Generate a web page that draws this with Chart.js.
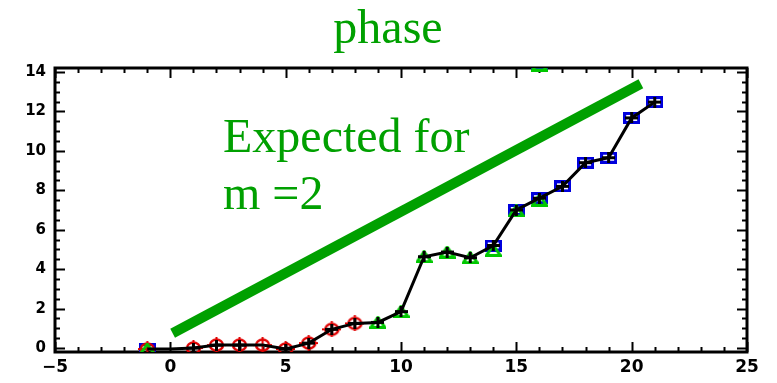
<!DOCTYPE html>
<html>
<head>
<meta charset="utf-8">
<script src="https://cdn.jsdelivr.net/npm/chart.js@4"></script>
<style>
  html, body { margin: 0; padding: 0; background: #fff; }
  #c { display: block; }
</style>
</head>
<body>
<canvas id="c" width="777" height="383"></canvas>
<script>
// --- data ---
const xAll     = [-1, 0, 1, 2, 3, 4, 5, 6, 7, 8, 9, 10, 11, 12, 13, 14, 15, 16, 17, 18, 19, 20, 21];
const phaseAll = [-0.05, -0.05, 0.0, 0.15, 0.15, 0.15, -0.05, 0.25, 0.95, 1.25, 1.3, 1.85, 4.63, 4.87, 4.58, 5.2, 7.0, 7.6, 8.2, 9.4, 9.65, 11.67, 12.47];
const plusShown = [0, 0, 1, 1, 1, 0, 1, 1, 1, 1, 1, 1, 1, 1, 1, 1, 1, 1, 1, 1, 1, 1, 1];

const xRed     = [-1, 1, 2, 3, 4, 5, 6, 7, 8];
const phaseRed = [-0.05, 0.0, 0.15, 0.15, 0.15, -0.05, 0.25, 0.95, 1.25];

const xGreen     = [-1, 9, 10, 11, 12, 13, 14, 15, 16, 16];
const phaseGreen = [-0.05, 1.3, 1.85, 4.63, 4.87, 4.58, 4.95, 6.95, 7.5, 14.35];

const xBlue     = [-1, 14, 15, 16, 16, 17, 18, 19, 20, 21];
const phaseBlue = [-0.05, 5.2, 7.0, 7.6, 14.35, 8.2, 9.4, 9.65, 11.67, 12.47];

// expected slope line (m = 2)
const xExpected     = [0.1, 20.4];
const phaseExpected = [0.75, 13.4];

const xTicks = [-5, 0, 5, 10, 15, 20, 25];
const xTickLabels = ['\u22125', '0', '5', '10', '15', '20', '25'];
const yTicks = [0, 2, 4, 6, 8, 10, 12, 14];

const GREEN_TEXT = '#00a000';

// --- marker images ---
function makeMarker(w, h, draw) {
    const c = document.createElement('canvas');
    c.width = w; c.height = h;
    draw(c.getContext('2d'));
    return c;
}
const plusMark = makeMarker(13, 11, g => {
    g.fillStyle = '#000';
    g.fillRect(0, 4, 13, 3);
    g.fillRect(5, 0, 3, 11);
});
const redMark = makeMarker(19, 16, g => {
    g.strokeStyle = '#e00000'; g.lineWidth = 2.5;
    g.beginPath(); g.ellipse(9.5, 8, 6.5, 5.5, 0, 0, Math.PI * 2); g.stroke();
    g.fillStyle = '#e00000';
    g.fillRect(0, 7, 19, 2);
    g.fillRect(8.5, 0, 2, 16);
});
const greenMark = makeMarker(17, 13, g => {
    g.strokeStyle = '#00c800'; g.lineWidth = 3;
    g.beginPath(); g.moveTo(8.5, 1.5); g.lineTo(15.5, 11.5); g.lineTo(1.5, 11.5); g.closePath(); g.stroke();
});
const blueMark = makeMarker(17, 12, g => {
    g.strokeStyle = '#0000dd'; g.lineWidth = 3;
    g.strokeRect(1.5, 1.5, 14, 9);
});

const pts = (xs, ys) => xs.map((x, i) => ({ x: x, y: ys[i] }));

// --- frame, inward ticks and annotation text ---
const framePlugin = {
    id: 'frame',
    beforeDatasetsDraw(chart) {
        const { ctx, chartArea: a, scales: { x, y } } = chart;
        ctx.save();
        ctx.strokeStyle = '#000';
        ctx.lineWidth = 2;
        ctx.beginPath();
        for (let v = -5; v <= 25; v++) {
            const px = Math.round(x.getPixelForValue(v)) + 0.5;
            const len = v % 5 === 0 ? 10 : 5;
            ctx.moveTo(px, a.bottom); ctx.lineTo(px, a.bottom - len);
            ctx.moveTo(px, a.top); ctx.lineTo(px, a.top + len);
        }
        for (let v = 0; v <= 14; v += 0.5) {
            const py = Math.round(y.getPixelForValue(v)) + 0.5;
            const len = v % 2 === 0 ? 10 : 5;
            ctx.moveTo(a.left, py); ctx.lineTo(a.left + len, py);
            ctx.moveTo(a.right, py); ctx.lineTo(a.right - len, py);
        }
        ctx.stroke();
        ctx.lineWidth = 3;
        ctx.strokeRect(a.left, a.top, a.right - a.left, a.bottom - a.top);
        ctx.restore();
    },
    afterDraw(chart) {
        const { ctx } = chart;
        ctx.save();
        ctx.fillStyle = GREEN_TEXT;
        ctx.font = '48px "Liberation Serif"';
        ctx.textAlign = 'center';
        ctx.textBaseline = 'alphabetic';
        ctx.fillText('phase', 388, 43);
        ctx.textAlign = 'left';
        ctx.fillText('Expected for', 223, 152);
        ctx.fillText('m =2', 223, 209);
        ctx.restore();
    }
};

new Chart(document.getElementById('c'), {
    type: 'scatter',
    data: {
        datasets: [{
            label: 'phase',
            data: pts(xAll, phaseAll),
            showLine: true,
            borderColor: '#000',
            borderWidth: 3,
            pointStyle: plusMark,
            pointRadius: plusShown.map(s => s ? 5 : 0),
            order: 0
        }, {
            label: 'red',
            data: pts(xRed, phaseRed),
            pointStyle: redMark,
            pointRadius: 5,
            order: 3
        }, {
            label: 'green',
            data: pts(xGreen, phaseGreen),
            pointStyle: greenMark,
            pointRadius: 5,
            clip: 0,
            order: 2
        }, {
            label: 'blue',
            data: pts(xBlue, phaseBlue),
            pointStyle: blueMark,
            pointRadius: 5,
            clip: 0,
            order: 4
        }, {
            label: 'expected',
            data: pts(xExpected, phaseExpected),
            showLine: true,
            borderColor: '#00a000',
            borderWidth: 10,
            borderCapStyle: 'butt',
            pointRadius: 0,
            order: 5
        }]
    },
    options: {
        responsive: false,
        animation: false,
        events: [],
        layout: { padding: { top: 68, right: 30, left: 0, bottom: 0 } },
        plugins: { legend: { display: false }, tooltip: { enabled: false } },
        scales: {
            x: {
                type: 'linear',
                min: -5, max: 25,
                grid: { display: false, drawTicks: false },
                border: { display: false },
                afterBuildTicks: s => { s.ticks = xTicks.map(v => ({ value: v })); },
                afterFit: s => { s.height = 31; },
                ticks: {
                    color: '#000',
                    padding: 5,
                    maxRotation: 0,
                    font: { family: 'DejaVu Sans', weight: 'bold', size: 17 },
                    callback: (v, i) => xTickLabels[i]
                }
            },
            y: {
                type: 'linear',
                min: -0.2, max: 14.2,
                grid: { display: false, drawTicks: false },
                border: { display: false },
                afterBuildTicks: s => { s.ticks = yTicks.map(v => ({ value: v })); },
                afterFit: s => { s.width = 55; },
                ticks: {
                    color: '#000',
                    padding: 9,
                    font: { family: 'DejaVu Sans', weight: 'bold', size: 15 }
                }
            }
        }
    },
    plugins: [framePlugin]
});
</script>
</body>
</html>
